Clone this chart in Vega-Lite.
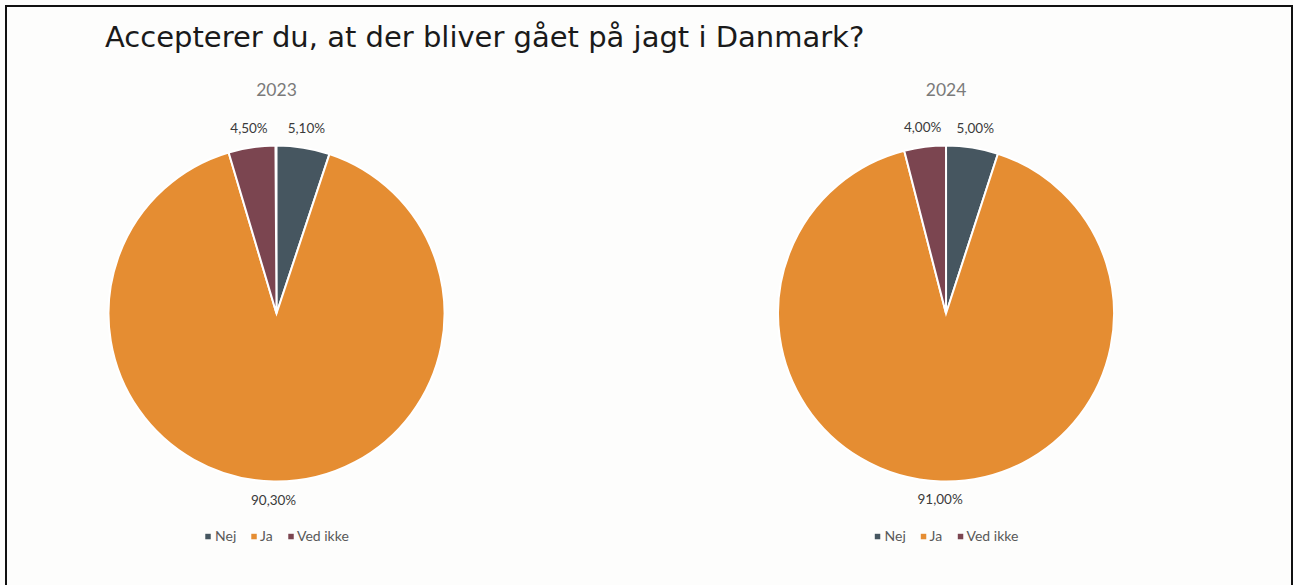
{
  "$schema": "https://vega.github.io/schema/vega-lite/v6.json",
  "width": 1293,
  "height": 585,
  "autosize": {"type": "fit", "contains": "padding"},
  "padding": {"left": 6, "top": 6, "right": 1, "bottom": -3},
  "background": "#fdfdfc",
  "title": {
    "text": "Accepterer du, at der bliver gået på jagt i Danmark?",
    "anchor": "start",
    "frame": "group",
    "orient": "top",
    "offset": -70,
    "dx": 99,
    "baseline": "alphabetic",
    "font": "DejaVu Sans",
    "fontSize": 29,
    "fontWeight": "normal",
    "color": "#1a1a1a"
  },
  "config": {
    "view": {"stroke": "#111111", "strokeWidth": 2},
    "text": {"font": "Lato"}
  },
  "datasets": {
    "answers": [
      {"year": "2023", "answer": "Nej", "value": 5.1, "k": 1, "label": "5,10%"},
      {"year": "2023", "answer": "Ja", "value": 90.3, "k": 2, "label": "90,30%"},
      {"year": "2023", "answer": "Ved ikke", "value": 4.5, "k": 3, "label": "4,50%"},
      {"year": "2024", "answer": "Nej", "value": 5.0, "k": 1, "label": "5,00%"},
      {"year": "2024", "answer": "Ja", "value": 91.0, "k": 2, "label": "91,00%"},
      {"year": "2024", "answer": "Ved ikke", "value": 4.0, "k": 3, "label": "4,00%"}
    ],
    "years": [{"year": "2023"}, {"year": "2024"}]
  },
  "data": {"name": "answers"},
  "encoding": {
    "x": {"field": "year", "type": "nominal", "axis": null,
      "scale": {"type": "point", "domain": ["2023", "2024"], "padding": 0.4604, "align": 0.4388}},
    "y": {"datum": "p", "type": "nominal", "axis": null,
      "scale": {"type": "point", "align": 0.5284}}
  },
  "layer": [
    {
      "transform": [{"filter": "datum.year === '2023'"}],
      "mark": {"type": "arc", "radius": 168, "stroke": "#ffffff", "strokeWidth": 2},
      "encoding": {
        "theta": {"field": "value", "type": "quantitative", "stack": true},
        "order": {"field": "k", "type": "quantitative"},
        "color": {"field": "answer", "type": "nominal", "legend": null,
          "scale": {"domain": ["Nej", "Ja", "Ved ikke"], "range": ["#465660", "#E58D32", "#7B4550"]}}
      }
    },
    {
      "transform": [{"filter": "datum.year === '2024'"}],
      "mark": {"type": "arc", "radius": 168, "stroke": "#ffffff", "strokeWidth": 2},
      "encoding": {
        "theta": {"field": "value", "type": "quantitative", "stack": true},
        "order": {"field": "k", "type": "quantitative"},
        "color": {"field": "answer", "type": "nominal", "legend": null}
      }
    },
    {
      "transform": [{"filter": "datum.year === '2023'"}],
      "mark": {"type": "text", "radius": 187, "fontSize": 13.5, "color": "#3a3a3a", "align": "center", "baseline": "middle"},
      "encoding": {
        "theta": {"field": "value", "type": "quantitative", "stack": true},
        "order": {"field": "k", "type": "quantitative"},
        "detail": {"field": "answer", "type": "nominal"},
        "text": {"field": "label", "type": "nominal"}
      }
    },
    {
      "transform": [{"filter": "datum.year === '2024'"}],
      "mark": {"type": "text", "radius": 187, "fontSize": 13.5, "color": "#3a3a3a", "align": "center", "baseline": "middle"},
      "encoding": {
        "theta": {"field": "value", "type": "quantitative", "stack": true},
        "order": {"field": "k", "type": "quantitative"},
        "detail": {"field": "answer", "type": "nominal"},
        "text": {"field": "label", "type": "nominal"}
      }
    },
    {
      "data": {"name": "years"},
      "mark": {"type": "text", "fontSize": 17.5, "color": "#7a7a7a", "align": "center", "baseline": "middle", "yOffset": -222.5},
      "encoding": {"text": {"field": "year", "type": "nominal"}}
    },
    {
      "data": {"name": "years"},
      "mark": {"type": "point", "shape": "square", "filled": true, "size": 30, "opacity": 1, "color": "#465660", "xOffset": -68.5, "yOffset": 223}
    },
    {
      "data": {"name": "years"},
      "mark": {"type": "point", "shape": "square", "filled": true, "size": 30, "opacity": 1, "color": "#E58D32", "xOffset": -22.5, "yOffset": 223}
    },
    {
      "data": {"name": "years"},
      "mark": {"type": "point", "shape": "square", "filled": true, "size": 30, "opacity": 1, "color": "#7B4550", "xOffset": 14.5, "yOffset": 223}
    },
    {
      "data": {"name": "years"},
      "mark": {"type": "text", "text": "Nej", "fontSize": 14, "color": "#595959", "align": "left", "baseline": "middle", "xOffset": -61.5, "yOffset": 223}
    },
    {
      "data": {"name": "years"},
      "mark": {"type": "text", "text": "Ja", "fontSize": 14, "color": "#595959", "align": "left", "baseline": "middle", "xOffset": -16.5, "yOffset": 223}
    },
    {
      "data": {"name": "years"},
      "mark": {"type": "text", "text": "Ved ikke", "fontSize": 14, "color": "#595959", "align": "left", "baseline": "middle", "xOffset": 20.5, "yOffset": 223}
    }
  ]
}
